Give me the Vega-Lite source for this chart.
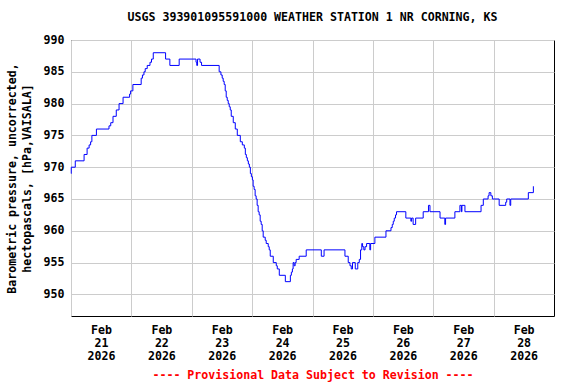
{
  "$schema": "https://vega.github.io/schema/vega-lite/v6.json",
  "width": 483,
  "height": 276,
  "autosize": "none",
  "padding": {"left": 71, "top": 40, "right": 22, "bottom": 68},
  "background": "white",
  "title": {
    "text": "USGS 393901095591000 WEATHER STATION 1 NR CORNING, KS",
    "font": "DejaVu Sans Mono",
    "fontSize": 11.6,
    "fontWeight": "bold",
    "color": "black",
    "anchor": "middle",
    "offset": 10
  },
  "config": {
    "view": {"stroke": "black", "strokeWidth": 1},
    "axis": {
      "labelFont": "DejaVu Sans Mono",
      "labelFontSize": 11.6,
      "labelFontWeight": "bold",
      "labelColor": "black",
      "titleFont": "DejaVu Sans Mono",
      "titleFontSize": 11.6,
      "titleFontWeight": "bold",
      "titleColor": "black",
      "gridColor": "#cccccc",
      "gridWidth": 1,
      "gridOpacity": 1,
      "ticks": false,
      "domain": false
    }
  },
  "data": {
    "values": [
      {"time": "2026-02-21T00:00:00Z", "pressure": 969},
      {"time": "2026-02-21T00:06:00Z", "pressure": 970},
      {"time": "2026-02-21T01:42:00Z", "pressure": 971},
      {"time": "2026-02-21T05:12:00Z", "pressure": 972},
      {"time": "2026-02-21T06:24:00Z", "pressure": 973},
      {"time": "2026-02-21T07:12:00Z", "pressure": 973.5},
      {"time": "2026-02-21T07:48:00Z", "pressure": 974},
      {"time": "2026-02-21T08:18:00Z", "pressure": 975},
      {"time": "2026-02-21T10:06:00Z", "pressure": 976},
      {"time": "2026-02-21T15:06:00Z", "pressure": 976.5},
      {"time": "2026-02-21T15:48:00Z", "pressure": 977},
      {"time": "2026-02-21T16:42:00Z", "pressure": 978},
      {"time": "2026-02-21T18:00:00Z", "pressure": 979},
      {"time": "2026-02-21T19:06:00Z", "pressure": 980},
      {"time": "2026-02-21T20:42:00Z", "pressure": 981},
      {"time": "2026-02-21T23:18:00Z", "pressure": 981.5},
      {"time": "2026-02-21T23:42:00Z", "pressure": 982},
      {"time": "2026-02-22T00:36:00Z", "pressure": 983},
      {"time": "2026-02-22T03:54:00Z", "pressure": 984},
      {"time": "2026-02-22T04:24:00Z", "pressure": 984.5},
      {"time": "2026-02-22T05:00:00Z", "pressure": 985},
      {"time": "2026-02-22T05:30:00Z", "pressure": 985.5},
      {"time": "2026-02-22T06:18:00Z", "pressure": 986},
      {"time": "2026-02-22T07:24:00Z", "pressure": 986.5},
      {"time": "2026-02-22T08:00:00Z", "pressure": 987},
      {"time": "2026-02-22T08:42:00Z", "pressure": 988},
      {"time": "2026-02-22T13:36:00Z", "pressure": 987},
      {"time": "2026-02-22T15:18:00Z", "pressure": 986},
      {"time": "2026-02-22T19:00:00Z", "pressure": 987},
      {"time": "2026-02-23T01:42:00Z", "pressure": 986.5},
      {"time": "2026-02-23T02:00:00Z", "pressure": 986},
      {"time": "2026-02-23T02:18:00Z", "pressure": 987},
      {"time": "2026-02-23T03:18:00Z", "pressure": 986.5},
      {"time": "2026-02-23T03:54:00Z", "pressure": 986},
      {"time": "2026-02-23T10:54:00Z", "pressure": 985},
      {"time": "2026-02-23T11:36:00Z", "pressure": 984.5},
      {"time": "2026-02-23T12:06:00Z", "pressure": 984},
      {"time": "2026-02-23T12:30:00Z", "pressure": 983.5},
      {"time": "2026-02-23T12:54:00Z", "pressure": 983},
      {"time": "2026-02-23T13:18:00Z", "pressure": 982},
      {"time": "2026-02-23T13:42:00Z", "pressure": 981},
      {"time": "2026-02-23T14:06:00Z", "pressure": 980.5},
      {"time": "2026-02-23T14:30:00Z", "pressure": 980},
      {"time": "2026-02-23T14:54:00Z", "pressure": 979.5},
      {"time": "2026-02-23T15:18:00Z", "pressure": 979},
      {"time": "2026-02-23T15:42:00Z", "pressure": 978},
      {"time": "2026-02-23T16:30:00Z", "pressure": 977},
      {"time": "2026-02-23T17:18:00Z", "pressure": 976},
      {"time": "2026-02-23T18:06:00Z", "pressure": 975},
      {"time": "2026-02-23T19:18:00Z", "pressure": 974},
      {"time": "2026-02-23T20:06:00Z", "pressure": 973.5},
      {"time": "2026-02-23T20:54:00Z", "pressure": 973},
      {"time": "2026-02-23T21:18:00Z", "pressure": 972},
      {"time": "2026-02-23T21:42:00Z", "pressure": 971.5},
      {"time": "2026-02-23T22:06:00Z", "pressure": 971},
      {"time": "2026-02-23T22:30:00Z", "pressure": 970.5},
      {"time": "2026-02-23T22:54:00Z", "pressure": 970},
      {"time": "2026-02-23T23:18:00Z", "pressure": 969},
      {"time": "2026-02-23T23:42:00Z", "pressure": 968.5},
      {"time": "2026-02-24T00:06:00Z", "pressure": 968},
      {"time": "2026-02-24T00:24:00Z", "pressure": 967},
      {"time": "2026-02-24T00:48:00Z", "pressure": 966.5},
      {"time": "2026-02-24T01:12:00Z", "pressure": 965.5},
      {"time": "2026-02-24T01:36:00Z", "pressure": 965},
      {"time": "2026-02-24T02:00:00Z", "pressure": 964},
      {"time": "2026-02-24T02:24:00Z", "pressure": 963},
      {"time": "2026-02-24T02:48:00Z", "pressure": 962.5},
      {"time": "2026-02-24T03:12:00Z", "pressure": 961.5},
      {"time": "2026-02-24T03:36:00Z", "pressure": 961},
      {"time": "2026-02-24T04:00:00Z", "pressure": 960},
      {"time": "2026-02-24T04:24:00Z", "pressure": 959},
      {"time": "2026-02-24T05:12:00Z", "pressure": 958.5},
      {"time": "2026-02-24T05:36:00Z", "pressure": 958},
      {"time": "2026-02-24T06:24:00Z", "pressure": 957.5},
      {"time": "2026-02-24T06:48:00Z", "pressure": 957},
      {"time": "2026-02-24T07:12:00Z", "pressure": 956},
      {"time": "2026-02-24T08:24:00Z", "pressure": 955},
      {"time": "2026-02-24T09:36:00Z", "pressure": 954.5},
      {"time": "2026-02-24T10:00:00Z", "pressure": 954},
      {"time": "2026-02-24T10:48:00Z", "pressure": 953},
      {"time": "2026-02-24T13:12:00Z", "pressure": 952},
      {"time": "2026-02-24T15:12:00Z", "pressure": 953},
      {"time": "2026-02-24T15:36:00Z", "pressure": 953.5},
      {"time": "2026-02-24T16:00:00Z", "pressure": 954},
      {"time": "2026-02-24T16:18:00Z", "pressure": 955},
      {"time": "2026-02-24T16:42:00Z", "pressure": 954.5},
      {"time": "2026-02-24T17:06:00Z", "pressure": 955},
      {"time": "2026-02-24T17:30:00Z", "pressure": 955.5},
      {"time": "2026-02-24T18:42:00Z", "pressure": 956},
      {"time": "2026-02-24T21:30:00Z", "pressure": 957},
      {"time": "2026-02-25T03:30:00Z", "pressure": 956},
      {"time": "2026-02-25T04:36:00Z", "pressure": 957},
      {"time": "2026-02-25T12:54:00Z", "pressure": 956},
      {"time": "2026-02-25T14:12:00Z", "pressure": 955},
      {"time": "2026-02-25T14:54:00Z", "pressure": 954.5},
      {"time": "2026-02-25T15:24:00Z", "pressure": 954},
      {"time": "2026-02-25T15:54:00Z", "pressure": 955},
      {"time": "2026-02-25T17:00:00Z", "pressure": 954},
      {"time": "2026-02-25T18:00:00Z", "pressure": 955},
      {"time": "2026-02-25T18:36:00Z", "pressure": 955.5},
      {"time": "2026-02-25T19:06:00Z", "pressure": 957},
      {"time": "2026-02-25T19:36:00Z", "pressure": 958},
      {"time": "2026-02-25T19:54:00Z", "pressure": 957.5},
      {"time": "2026-02-25T20:24:00Z", "pressure": 957},
      {"time": "2026-02-25T20:54:00Z", "pressure": 957.5},
      {"time": "2026-02-25T21:30:00Z", "pressure": 958},
      {"time": "2026-02-25T22:48:00Z", "pressure": 957},
      {"time": "2026-02-25T23:06:00Z", "pressure": 958},
      {"time": "2026-02-26T00:48:00Z", "pressure": 959},
      {"time": "2026-02-26T05:12:00Z", "pressure": 960},
      {"time": "2026-02-26T07:12:00Z", "pressure": 960.5},
      {"time": "2026-02-26T07:42:00Z", "pressure": 961},
      {"time": "2026-02-26T08:06:00Z", "pressure": 961.5},
      {"time": "2026-02-26T08:30:00Z", "pressure": 962},
      {"time": "2026-02-26T09:00:00Z", "pressure": 962.5},
      {"time": "2026-02-26T09:24:00Z", "pressure": 963},
      {"time": "2026-02-26T13:06:00Z", "pressure": 962},
      {"time": "2026-02-26T15:06:00Z", "pressure": 961.5},
      {"time": "2026-02-26T15:24:00Z", "pressure": 962},
      {"time": "2026-02-26T16:00:00Z", "pressure": 961},
      {"time": "2026-02-26T17:00:00Z", "pressure": 962},
      {"time": "2026-02-26T20:00:00Z", "pressure": 963},
      {"time": "2026-02-26T22:06:00Z", "pressure": 964},
      {"time": "2026-02-26T22:42:00Z", "pressure": 963},
      {"time": "2026-02-27T02:42:00Z", "pressure": 962},
      {"time": "2026-02-27T04:36:00Z", "pressure": 961},
      {"time": "2026-02-27T04:54:00Z", "pressure": 962},
      {"time": "2026-02-27T08:36:00Z", "pressure": 963},
      {"time": "2026-02-27T10:36:00Z", "pressure": 964},
      {"time": "2026-02-27T11:12:00Z", "pressure": 963},
      {"time": "2026-02-27T11:24:00Z", "pressure": 964},
      {"time": "2026-02-27T12:36:00Z", "pressure": 963},
      {"time": "2026-02-27T19:00:00Z", "pressure": 964},
      {"time": "2026-02-27T19:54:00Z", "pressure": 965},
      {"time": "2026-02-27T21:48:00Z", "pressure": 965.5},
      {"time": "2026-02-27T22:12:00Z", "pressure": 966},
      {"time": "2026-02-27T22:54:00Z", "pressure": 965.5},
      {"time": "2026-02-27T23:30:00Z", "pressure": 965},
      {"time": "2026-02-28T02:12:00Z", "pressure": 964},
      {"time": "2026-02-28T04:48:00Z", "pressure": 964.5},
      {"time": "2026-02-28T05:12:00Z", "pressure": 965},
      {"time": "2026-02-28T06:30:00Z", "pressure": 964},
      {"time": "2026-02-28T06:48:00Z", "pressure": 965},
      {"time": "2026-02-28T13:48:00Z", "pressure": 966},
      {"time": "2026-02-28T15:48:00Z", "pressure": 967}
    ]
  },
  "mark": {"type": "line", "interpolate": "step-after", "color": "#0000ff", "strokeWidth": 1},
  "encoding": {
    "x": {
      "field": "time",
      "type": "temporal",
      "scale": {
        "type": "utc",
        "domain": [
          {"year": 2026, "month": 2, "date": 21, "utc": true},
          {"year": 2026, "month": 3, "date": 1, "utc": true}
        ]
      },
      "axis": {
        "values": [
          {"year": 2026, "month": 2, "date": 21, "utc": true},
          {"year": 2026, "month": 2, "date": 22, "utc": true},
          {"year": 2026, "month": 2, "date": 23, "utc": true},
          {"year": 2026, "month": 2, "date": 24, "utc": true},
          {"year": 2026, "month": 2, "date": 25, "utc": true},
          {"year": 2026, "month": 2, "date": 26, "utc": true},
          {"year": 2026, "month": 2, "date": 27, "utc": true},
          {"year": 2026, "month": 2, "date": 28, "utc": true}
        ],
        "grid": true,
        "labelExpr": "[utcFormat(datum.value, '%b'), utcFormat(datum.value, '%d'), utcFormat(datum.value, '%Y')]",
        "labelOffset": 30,
        "labelFlush": false,
        "labelOverlap": false,
        "labelBound": false,
        "labelAlign": "center",
        "labelBaseline": "top",
        "labelLineHeight": 13,
        "labelPadding": 8,
        "title": "---- Provisional Data Subject to Revision ----",
        "titleColor": "#ff0000",
        "titlePadding": 8
      }
    },
    "y": {
      "field": "pressure",
      "type": "quantitative",
      "scale": {"domain": [946.6, 990], "nice": false, "zero": false},
      "axis": {
        "values": [950, 955, 960, 965, 970, 975, 980, 985, 990],
        "grid": true,
        "labelPadding": 7,
        "title": ["Barometric pressure, uncorrected,", "hectopascals, [hPa,VAISALA]"],
        "titlePadding": 11,
        "titleLineHeight": 15
      }
    }
  }
}
